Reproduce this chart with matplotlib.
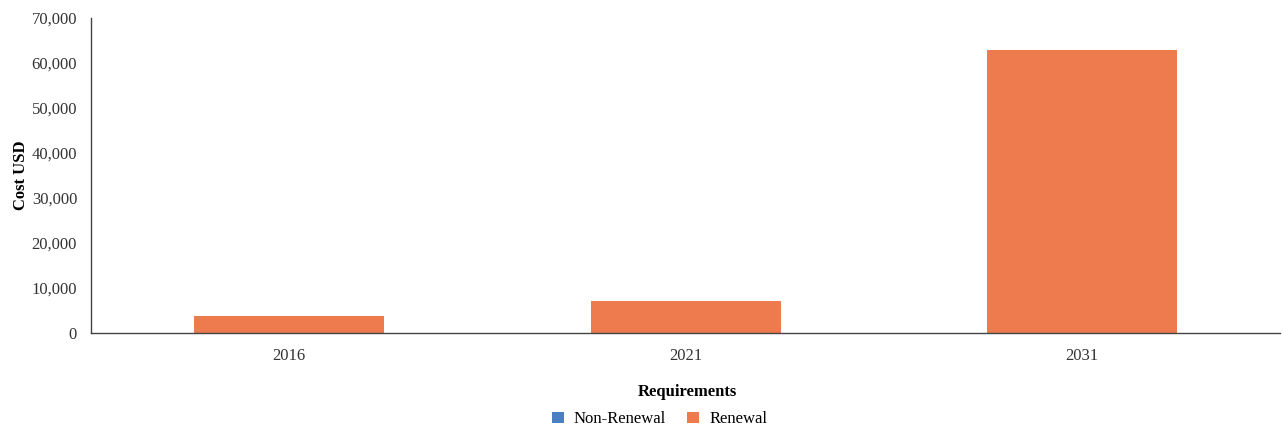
import matplotlib
matplotlib.use("Agg")
import matplotlib.pyplot as plt
from matplotlib.ticker import FuncFormatter
import numpy as np

years = ["2016", "2021", "2031"]
non_renewal = [0, 0, 0]
renewal = [3700, 7100, 62900]
yticks = [0, 10000, 20000, 30000, 40000, 50000, 60000, 70000]

plt.rcParams['font.family'] = ['Liberation Serif', 'DejaVu Serif']

fig = plt.figure(figsize=(12.83, 4.30), dpi=100)
ax = fig.add_axes([0.0709, 0.2256, 0.9271, 0.7324])

x = np.arange(len(years))
blue = "#4a7fc1"
orange = "#ee7b4e"
b1 = ax.bar(x, non_renewal, width=0.48, color=blue, label="Non-Renewal")
b2 = ax.bar(x, renewal, width=0.48, bottom=non_renewal, color=orange, label="Renewal")

ax.set_xlim(-0.5, 2.5)
ax.set_ylim(0, 70000)
ax.set_xticks(x)
ax.set_xticklabels(years)
ax.set_yticks(yticks)
ax.yaxis.set_major_formatter(FuncFormatter(lambda v, p: f"{int(v):,}"))
ax.tick_params(axis='both', length=0, labelsize=12, colors="#333333")
ax.tick_params(axis='y', pad=10)
ax.tick_params(axis='x', pad=11)
for s in ["top", "right"]:
    ax.spines[s].set_visible(False)
for s in ["left", "bottom"]:
    ax.spines[s].set_color("#444444")
    ax.spines[s].set_linewidth(1.0)

ax.set_ylabel("Cost USD", fontsize=12, fontweight="bold", labelpad=2)

fig.text(0.536, 0.088, "Requirements", ha="center", va="center", fontsize=12, fontweight="bold")
fig.legend(handles=[b1, b2], labels=["Non-Renewal", "Renewal"], loc="center",
           bbox_to_anchor=(0.514, 0.025), ncol=2, frameon=False,
           fontsize=12, handlelength=0.7, handleheight=0.7,
           columnspacing=1.3, handletextpad=0.6)

fig.savefig("out.png", dpi=100)
